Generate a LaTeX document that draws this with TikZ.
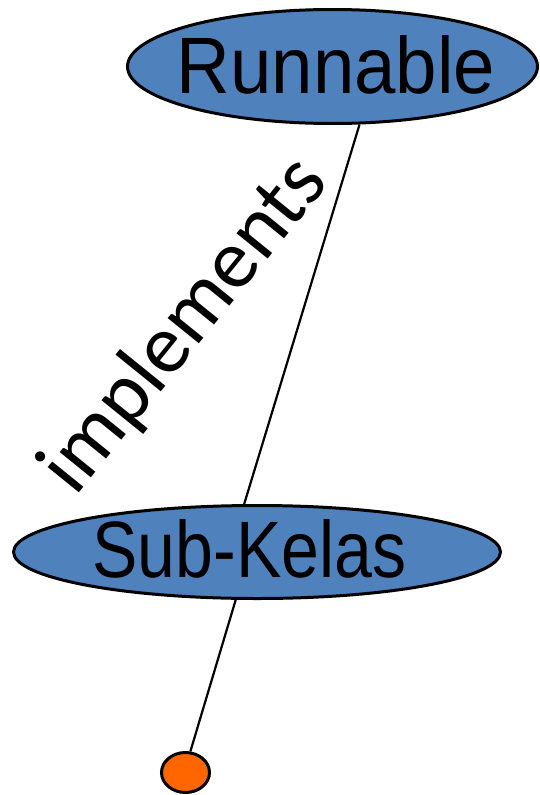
\documentclass[tikz,border=0pt]{standalone}
\usepackage{fontspec}
\setmainfont{Liberation Sans}
\newfontfamily\labelfont{Carlito}
\usetikzlibrary{shapes.geometric}

\definecolor{classblue}{HTML}{4F81BD}
\definecolor{pinorange}{HTML}{FF6600}

\tikzset{
  classshape/.style={ellipse, draw=black, line width=3pt, fill=classblue, inner sep=0pt},
  classname/.style={font=\fontsize{80}{80}\selectfont, inner sep=0pt},
  link/.style={draw=black, line width=2.2pt},
  pin/.style={ellipse, draw=black, line width=3pt, fill=pinorange, inner sep=0pt,
              minimum width=48pt, minimum height=40pt}
}

\begin{document}
\begin{tikzpicture}[x=1pt, y=-1pt]
  \path[use as bounding box] (0,0) rectangle (539,795);

  % class ellipses
  \node[classshape, minimum width=410pt, minimum height=114pt] (run) at (332.5,66.5) {};
  \node[classshape, minimum width=487pt, minimum height=93pt] (sub) at (257,552) {};
  \node[pin] (dot) at (185.5,772.5) {};

  % class names
  \node[classname] (runtext) at (336,64.5) {\scalebox{0.93}[1]{Runnable}};
  \node[classname] (subtext) at (249.5,548.5) {\scalebox{0.85}[1]{Sub-Kelas}};

  % connectors
  \draw[link] (run.-65.3) -- (sub.105.5);
  \draw[link] (sub.246.9) -- (dot.77);

  % relation label
  \node[font=\labelfont\fontsize{84}{84}\selectfont, rotate=51, inner sep=0pt]
    (impl) at (185,326) {implements};
\end{tikzpicture}
\end{document}
